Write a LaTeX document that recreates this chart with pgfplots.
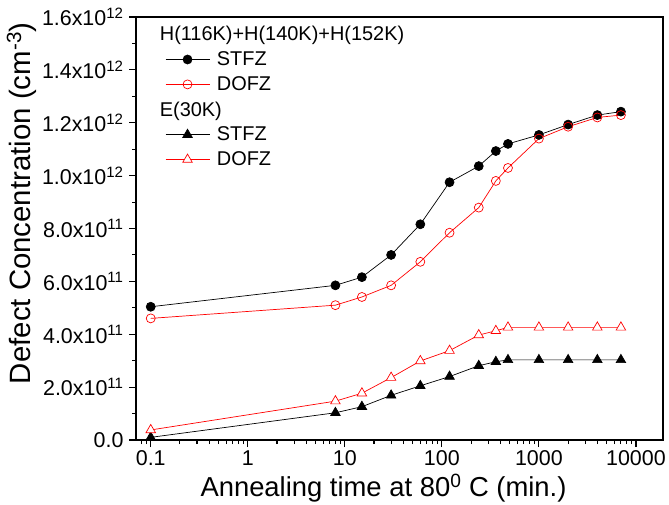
\documentclass[border=0pt]{standalone}
\usepackage{pgfplots}
\usepackage{pgfplotstable}
\pgfplotsset{compat=1.18}
\usepackage{fontspec}
\setmainfont{Liberation Sans}

% annealing time (min) and defect concentrations (cm^-3)
\pgfplotstableread{
t     Hst      Hdo      Est      Edo
0.1   5.04e11  4.60e11  0.10e11  0.38e11
8     5.85e11  5.10e11  1.03e11  1.47e11
15    6.16e11  5.41e11  1.26e11  1.77e11
30    7.00e11  5.85e11  1.69e11  2.36e11
60    8.16e11  6.74e11  2.05e11  2.99e11
120   9.75e11  7.84e11  2.40e11  3.38e11
240   10.36e11 8.79e11  2.81e11  3.97e11
360   10.93e11 9.80e11  2.96e11  4.13e11
480   11.20e11 10.29e11 3.03e11  4.26e11
1000  11.54e11 11.40e11 3.03e11  4.26e11
2000  11.93e11 11.85e11 3.03e11  4.26e11
4000  12.29e11 12.20e11 3.03e11  4.26e11
7000  12.42e11 12.29e11 3.03e11  4.26e11
}\defects

\begin{document}
\begin{tikzpicture}
  \begin{axis}[
      scale only axis,
      width=527bp, height=423bp,
      xmode=log,
      xmin=0.0705, xmax=19000,
      ymin=0, ymax=1.6e12,
      xtick={0.1,1,10,100,1000,10000},
      xticklabels={0.1,1,10,100,1000,10000},
      minor xtick={0.08,0.09,0.2,0.3,0.4,0.5,0.6,0.7,0.8,0.9,
        2,3,4,5,6,7,8,9,20,30,40,50,60,70,80,90,
        200,300,400,500,600,700,800,900,2000,3000,4000,5000,6000,7000,8000,9000},
      ytick={0,2e11,4e11,6e11,8e11,1e12,1.2e12,1.4e12,1.6e12},
      yticklabels={0.0,
        2.0x10\textsuperscript{11},4.0x10\textsuperscript{11},
        6.0x10\textsuperscript{11},8.0x10\textsuperscript{11},
        1.0x10\textsuperscript{12},1.2x10\textsuperscript{12},
        1.4x10\textsuperscript{12},1.6x10\textsuperscript{12}},
      minor ytick={1e11,3e11,5e11,7e11,9e11,1.1e12,1.3e12,1.5e12},
      scaled ticks=false,
      tick align=outside,
      xtick pos=bottom, ytick pos=left,
      major tick length=7bp, minor tick length=4bp,
      axis line style={line width=1.3bp},
      every tick/.style={line width=1.1bp, black},
      tick label style={font=\fontsize{21.5}{24}\selectfont},
      yticklabel style={xshift=-2bp},
      xlabel={Annealing time at 80\textsuperscript{0} C (min.)},
      ylabel={Defect Concentration (cm\textsuperscript{-3})},
      xlabel style={font=\fontsize{27.5}{31}\selectfont, yshift=-2bp, xshift=-16bp},
      ylabel style={font=\fontsize{29.5}{33}\selectfont,
        at={(ticklabel cs:0.56)}, yshift=-1bp},
      legend style={at={(rel axis cs:0.055,0.983)}, anchor=north west,
        draw=none, fill=none, inner sep=0pt, row sep=5.5bp, column sep=5bp,
        font=\fontsize{20}{24}\selectfont},
      legend cell align=left,
      legend image code/.code={\draw[mark repeat=2,mark phase=2,#1]
        plot coordinates {(0bp,0bp) (22bp,0bp) (44bp,0bp)};},
    ]
    \addlegendimage{empty legend}
    \addlegendentry{\hspace*{-57bp}H(116K)+H(140K)+H(152K)}
    \addplot[black, line width=0.7bp, mark=*, mark size=4.5bp,
      mark options={solid, fill=black}] table[x=t, y=Hst] {\defects};
    \addlegendentry{STFZ}
    \addplot[red, line width=0.7bp, mark=o, mark size=4.5bp,
      mark options={solid, fill=white}] table[x=t, y=Hdo] {\defects};
    \addlegendentry{DOFZ}
    \addlegendimage{empty legend}
    \addlegendentry{\hspace*{-57bp}E(30K)}
    \addplot[black, line width=0.7bp, mark=triangle*, mark size=5.5bp,
      mark options={solid, fill=black}] table[x=t, y=Est] {\defects};
    \addlegendentry{STFZ}
    \addplot[red, line width=0.7bp, mark=triangle*, mark size=5.5bp,
      mark options={solid, fill=white, draw=red}] table[x=t, y=Edo] {\defects};
    \addlegendentry{DOFZ}
  \end{axis}
  \pgfresetboundingbox
  \path[use as bounding box] ([shift={(-136bp,-65bp)}]current axis.south west)
    rectangle ([shift={(6bp,17bp)}]current axis.north east);
\end{tikzpicture}
\end{document}
